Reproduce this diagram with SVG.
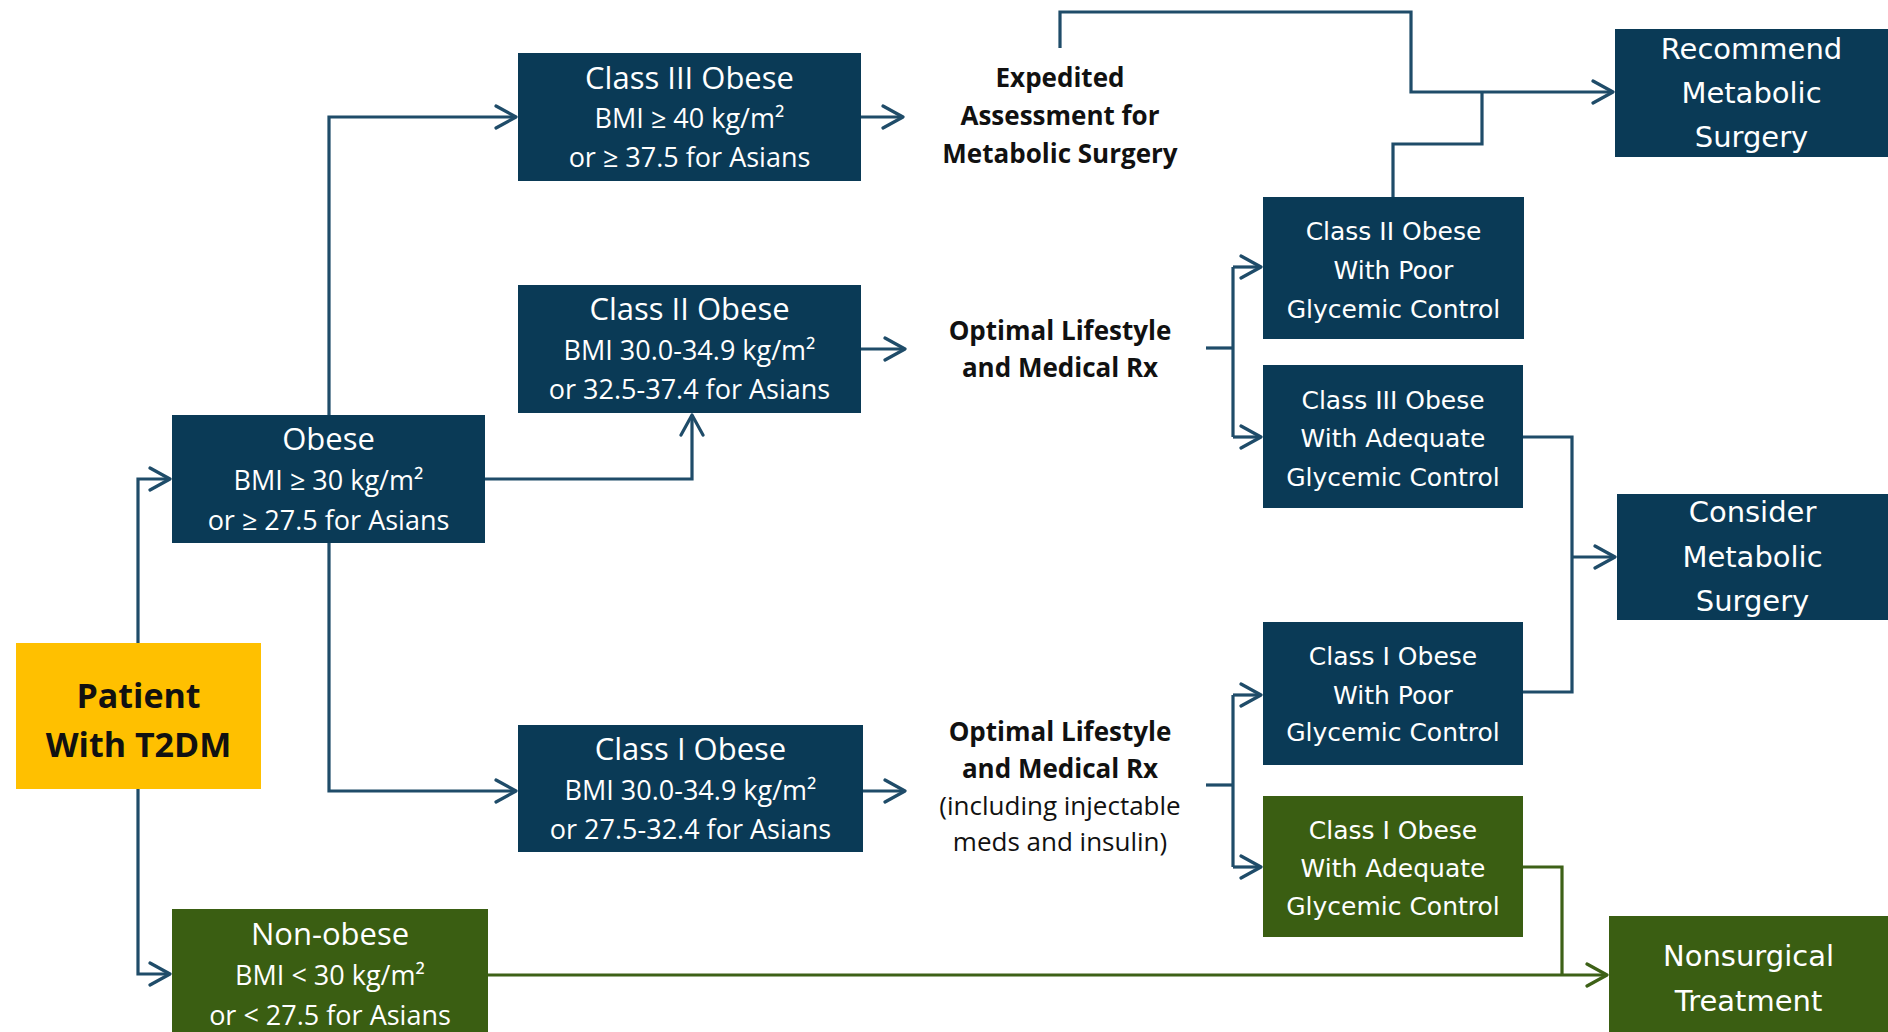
<svg xmlns="http://www.w3.org/2000/svg" width="1888" height="1032" viewBox="0 0 1888 1032">
<defs>
<marker id="ah" markerUnits="userSpaceOnUse" viewBox="0 0 24 26" refX="22" refY="13" markerWidth="24" markerHeight="26" orient="auto">
<path d="M2,2 L22,13 L2,24" fill="none" stroke="#1F4C69" stroke-width="3.2" stroke-linecap="round" stroke-linejoin="round"/>
</marker>
<marker id="ahg" markerUnits="userSpaceOnUse" viewBox="0 0 24 26" refX="22" refY="13" markerWidth="24" markerHeight="26" orient="auto">
<path d="M2,2 L22,13 L2,24" fill="none" stroke="#3D6117" stroke-width="3.2" stroke-linecap="round" stroke-linejoin="round"/>
</marker>
</defs>
<style>
.navy{fill:#0A3A56}
.green{fill:#3A5E12}
.yellow{fill:#FFC000}
.t{font-family:"Open Sans","Liberation Sans",sans-serif;fill:#FFFFFF;text-anchor:middle}
.tt{font-size:31px}
.ts{font-size:27px}
.r{font-family:"DejaVu Sans","Liberation Sans",sans-serif;fill:#FFFFFF;text-anchor:middle;font-size:25px}
.rb{font-family:"DejaVu Sans","Liberation Sans",sans-serif;fill:#FFFFFF;text-anchor:middle;font-size:29px}
.lab{font-family:"Open Sans","Liberation Sans",sans-serif;fill:#111111;text-anchor:middle;font-size:26px}
.b{font-weight:bold}
.c{fill:none;stroke:#1F4C69;stroke-width:3.2}
.cg{fill:none;stroke:#3D6117;stroke-width:3.2}
</style>
<rect width="1888" height="1032" fill="#FFFFFF"/>

<g id="connectors">
<path class="c" d="M138,643 V479 H170" marker-end="url(#ah)"/>
<path class="c" d="M138,789 V974 H170" marker-end="url(#ah)"/>
<path class="c" d="M329,415 V117 H516" marker-end="url(#ah)"/>
<path class="c" d="M329,543 V791 H516" marker-end="url(#ah)"/>
<path class="c" d="M485,479 H692 V415" marker-end="url(#ah)"/>
<path class="c" d="M861,117 H903" marker-end="url(#ah)"/>
<path class="c" d="M861,349 H905" marker-end="url(#ah)"/>
<path class="c" d="M863,791 H905" marker-end="url(#ah)"/>
<path class="c" d="M1060,48 V12 H1411 V92 H1613" marker-end="url(#ah)"/>
<path class="c" d="M1393,197 V144 H1482 V92"/>
<path class="c" d="M1206,348 H1233"/>
<path class="c" d="M1233,267 V437"/>
<path class="c" d="M1233,267 H1261" marker-end="url(#ah)"/>
<path class="c" d="M1233,437 H1261" marker-end="url(#ah)"/>
<path class="c" d="M1206,785 H1233"/>
<path class="c" d="M1233,695 V867"/>
<path class="c" d="M1233,695 H1261" marker-end="url(#ah)"/>
<path class="c" d="M1233,867 H1261" marker-end="url(#ah)"/>
<path class="c" d="M1523,437 H1572 V692 H1523"/>
<path class="c" d="M1572,557 H1615" marker-end="url(#ah)"/>
<path class="cg" d="M488,975 H1607" marker-end="url(#ahg)"/>
<path class="cg" d="M1523,867 H1562 V975"/>
</g>

<g id="patient">
<rect class="yellow" x="16" y="643" width="245" height="146"/>
<text class="lab b" x="138.5" y="708" style="font-size:34px">Patient</text>
<text class="lab b" x="138.5" y="757" style="font-size:34px">With T2DM</text>
</g>

<g id="obese">
<rect class="navy" x="172" y="415" width="313" height="128"/>
<text class="t tt" x="328.5" y="450">Obese</text>
<text class="t ts" x="328.5" y="490">BMI ≥ 30 kg/m²</text>
<text class="t ts" x="328.5" y="530">or ≥ 27.5 for Asians</text>
</g>

<g id="nonobese">
<rect class="green" x="172" y="909" width="316" height="130"/>
<text class="t tt" x="330" y="945">Non-obese</text>
<text class="t ts" x="330" y="985">BMI &lt; 30 kg/m²</text>
<text class="t ts" x="330" y="1025">or &lt; 27.5 for Asians</text>
</g>

<g id="class3">
<rect class="navy" x="518" y="53" width="343" height="128"/>
<text class="t tt" x="689.5" y="89">Class III Obese</text>
<text class="t ts" x="689.5" y="128">BMI ≥ 40 kg/m²</text>
<text class="t ts" x="689.5" y="167">or ≥ 37.5 for Asians</text>
</g>

<g id="class2">
<rect class="navy" x="518" y="285" width="343" height="128"/>
<text class="t tt" x="689.5" y="320">Class II Obese</text>
<text class="t ts" x="689.5" y="360">BMI 30.0-34.9 kg/m²</text>
<text class="t ts" x="689.5" y="399">or 32.5-37.4 for Asians</text>
</g>

<g id="class1">
<rect class="navy" x="518" y="725" width="345" height="127"/>
<text class="t tt" x="690.5" y="760">Class I Obese</text>
<text class="t ts" x="690.5" y="800">BMI 30.0-34.9 kg/m²</text>
<text class="t ts" x="690.5" y="839">or 27.5-32.4 for Asians</text>
</g>

<g id="expedited">
<text class="lab b" x="1060" y="87">Expedited</text>
<text class="lab b" x="1060" y="125">Assessment for</text>
<text class="lab b" x="1060" y="163">Metabolic Surgery</text>
</g>

<g id="optimal1">
<text class="lab b" x="1060" y="340">Optimal Lifestyle</text>
<text class="lab b" x="1060" y="377">and Medical Rx</text>
</g>

<g id="optimal2">
<text class="lab b" x="1060" y="741">Optimal Lifestyle</text>
<text class="lab b" x="1060" y="778">and Medical Rx</text>
<text class="lab" x="1060" y="815">(including injectable</text>
<text class="lab" x="1060" y="851">meds and insulin)</text>
</g>

<g id="c2poor">
<rect class="navy" x="1263" y="197" width="261" height="142"/>
<text class="r" x="1393.5" y="240">Class II Obese</text>
<text class="r" x="1393.5" y="279">With Poor</text>
<text class="r" x="1393.5" y="318">Glycemic Control</text>
</g>

<g id="c3adequate">
<rect class="navy" x="1263" y="365" width="260" height="143"/>
<text class="r" x="1393" y="409">Class III Obese</text>
<text class="r" x="1393" y="447">With Adequate</text>
<text class="r" x="1393" y="486">Glycemic Control</text>
</g>

<g id="c1poor">
<rect class="navy" x="1263" y="622" width="260" height="143"/>
<text class="r" x="1393" y="665">Class I Obese</text>
<text class="r" x="1393" y="704">With Poor</text>
<text class="r" x="1393" y="741">Glycemic Control</text>
</g>

<g id="c1adequate">
<rect class="green" x="1263" y="796" width="260" height="141"/>
<text class="r" x="1393" y="839">Class I Obese</text>
<text class="r" x="1393" y="877">With Adequate</text>
<text class="r" x="1393" y="915">Glycemic Control</text>
</g>

<g id="recommend">
<rect class="navy" x="1615" y="29" width="273" height="128"/>
<text class="rb" x="1751.5" y="59">Recommend</text>
<text class="rb" x="1751.5" y="103">Metabolic</text>
<text class="rb" x="1751.5" y="147">Surgery</text>
</g>

<g id="consider">
<rect class="navy" x="1617" y="494" width="271" height="126"/>
<text class="rb" x="1752.5" y="522">Consider</text>
<text class="rb" x="1752.5" y="567">Metabolic</text>
<text class="rb" x="1752.5" y="611">Surgery</text>
</g>

<g id="nonsurgical">
<rect class="green" x="1609" y="916" width="279" height="116"/>
<text class="rb" x="1748.5" y="966">Nonsurgical</text>
<text class="rb" x="1748.5" y="1011">Treatment</text>
</g>
</svg>
